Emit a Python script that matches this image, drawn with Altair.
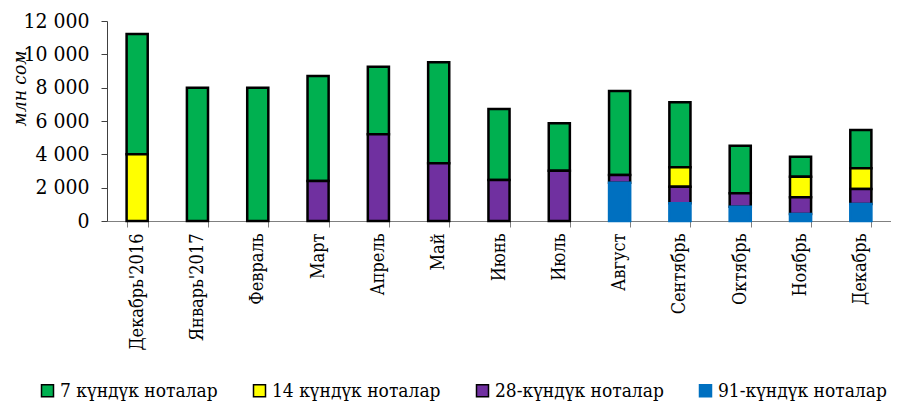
import altair as alt
import pandas as pd

months = ["Декабрь'2016", "Январь'2017", "Февраль", "Март", "Апрель", "Май",
          "Июнь", "Июль", "Август", "Сентябрь", "Октябрь", "Ноябрь", "Декабрь"]
series = ["7 күндүк ноталар", "14 күндүк ноталар", "28-күндүк ноталар", "91-күндүк ноталар"]
n7 = [7220, 8000, 8000, 6300, 4060, 6060, 4260, 2840, 5040, 3900, 2860, 1200, 2300]
n14 = [4000, 0, 0, 0, 0, 0, 0, 0, 0, 1160, 0, 1240, 1240]
n28 = [0, 0, 0, 2400, 5200, 3460, 2460, 3020, 460, 1000, 800, 1000, 900]
n91 = [0, 0, 0, 0, 0, 0, 0, 0, 2300, 1060, 860, 420, 1020]
y_ticks = [0, 2000, 4000, 6000, 8000, 10000, 12000]

fills = ["#00B050", "#FFFF00", "#7030A0", "#0070C0"]
strokes = ["#000000", "#000000", "#000000", "#0070C0"]
stack_order = [3, 2, 1, 0]

rows = []
for i, m in enumerate(months):
    for s, vals, o in zip(series, [n7, n14, n28, n91], stack_order):
        rows.append({"month": m, "series": s, "value": vals[i], "ord": o})
df = pd.DataFrame(rows)

FONT = "DejaVu Serif Condensed"

legend = alt.Legend(
    title=None, orient="none", direction="horizontal", legendX=-69, legendY=360,
    labelFont=FONT, labelFontSize=19, labelColor="#000000", symbolType="square",
    symbolSize=144, symbolStrokeWidth=1.5, columnPadding=32, labelOffset=3,
    labelLimit=400,
)

chart = alt.Chart(df).transform_filter("datum.value > 0").mark_bar(strokeWidth=2.5).encode(
    x=alt.X("month:N", sort=months,
            scale=alt.Scale(paddingInner=0.65, paddingOuter=0.325),
            axis=alt.Axis(title=None, labelAngle=270, labelFont=FONT, labelFontSize=18,
                          labelColor="#000000", tickBand="extent", tickSize=6,
                          tickColor="#808080", domainColor="#808080", labelPadding=6,
                          labelLimit=300)),
    y=alt.Y("value:Q", stack="zero",
            scale=alt.Scale(domain=[0, 12000], nice=False),
            axis=alt.Axis(title="млн сом", values=y_ticks, grid=False,
                          labelExpr="replace(format(datum.value, ','), ',', ' ')",
                          labelFont=FONT, labelFontSize=21, labelColor="#000000",
                          tickSize=6, tickColor="#404040", domainColor="#404040",
                          labelPadding=12,
                          titleFont=FONT, titleFontSize=19, titleFontStyle="italic",
                          titleFontWeight="normal", titleColor="#000000",
                          titleAngle=270, titleX=-88, titleY=67,
                          titleAlign="center", titleBaseline="middle")),
    fill=alt.Fill("series:N", scale=alt.Scale(domain=series, range=fills), legend=legend),
    stroke=alt.Stroke("series:N", scale=alt.Scale(domain=series, range=strokes), legend=legend),
    order=alt.Order("ord:Q"),
).properties(
    width=784, height=200,
    padding={"left": 99, "top": 13, "right": 0, "bottom": 182},
    autosize=alt.AutoSizeParams(type="none"),
).configure_view(stroke=None)

chart.save("out.html", embed_options={"renderer": "svg", "actions": False})
